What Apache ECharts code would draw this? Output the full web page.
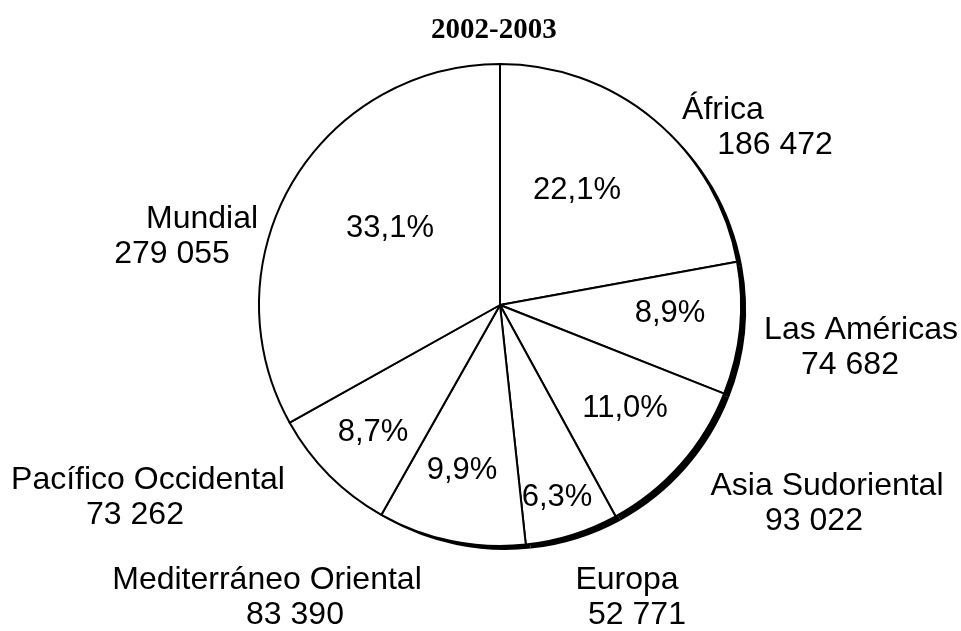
<!DOCTYPE html>
<html>
<head>
<meta charset="utf-8">
<script src="https://cdn.jsdelivr.net/npm/echarts@6/dist/echarts.min.js"></script>
<style>
  html, body { margin: 0; padding: 0; background: #fff; }
  #chart { width: 961px; height: 631px; }
</style>
</head>
<body>
<div id="chart"></div>
<script>
// regions, clockwise from 12 o'clock
var regiones = ['África', 'Las Américas', 'Asia Sudoriental', 'Europa',
	'Mediterráneo Oriental', 'Pacífico Occidental', 'Mundial'];
var casos = [186472, 74682, 93022, 52771, 83390, 73262, 279055];
var titulo = '2002-2003';

// where the labels sit in the original (centre of first line x, block centre y)
var nombrePos = [[723, 128], [861, 348], [827, 504], [627, 598], [267, 598], [148, 498], [202, 237]];
// second line shift relative to first line
var segundaLinea = [52, -11, -13, 10, 28, -13, -30];
var pctPos = [[577, 190], [670, 313], [625, 408], [557, 497], [462, 470], [373, 432], [390, 228]];

var total = casos.reduce(function (a, b) { return a + b; }, 0);

function miles(n) {
	return String(n).replace(/\B(?=(\d{3})+(?!\d))/g, ' ');
}

var datos = regiones.map(function (r, i) {
	var s = segundaLinea[i];
	return {
		name: r,
		value: casos[i],
		label: {
			rich: {
				v: { fontSize: 32, fontFamily: 'Liberation Sans', color: '#000', lineHeight: 35,
					padding: s > 0 ? [0, 0, 0, 2 * s] : [0, -2 * s, 0, 0] }
			}
		}
	};
});

var chart = echarts.init(document.getElementById('chart'));

chart.setOption({
	backgroundColor: '#fff',
	animation: false,
	title: {
		text: titulo,
		left: 426,
		top: 11,
		textStyle: {
			fontFamily: 'Liberation Serif',
			fontWeight: 'bold',
			fontSize: 29,
			color: '#000'
		}
	},
	series: [
		{
			// drop shadow on the lower right
			type: 'pie',
			silent: true,
			center: [505, 309],
			radius: 241,
			startAngle: 90,
			data: casos.map(function (v) { return { value: v }; }),
			itemStyle: { color: '#000', borderWidth: 0 },
			label: { show: false },
			labelLine: { show: false },
			emphasis: { disabled: true }
		},
		{
			type: 'pie',
			center: [500, 305],
			radius: 241,
			startAngle: 90,
			data: datos,
			itemStyle: { color: '#fff', borderColor: '#000', borderWidth: 2 },
			label: {
				show: true,
				position: 'outside',
				overflow: 'none',
				edgeDistance: 0,
				bleedMargin: 0,
				formatter: function (p) {
					return '{n|' + p.name + '}\n{v|' + miles(p.value) + '}';
				},
				rich: {
					n: { fontSize: 32, fontFamily: 'Liberation Sans', color: '#000', lineHeight: 35 }
				}
			},
			labelLine: { show: false },
			labelLayout: function (p) {
				var pos = nombrePos[p.dataIndex];
				return { x: pos[0], y: pos[1], align: 'center', verticalAlign: 'middle' };
			},
			emphasis: { disabled: true }
		},
		{
			// percentage labels
			type: 'pie',
			silent: true,
			center: [500, 305],
			radius: 241,
			startAngle: 90,
			data: casos.map(function (v) { return { value: v }; }),
			itemStyle: { color: 'rgba(0,0,0,0)', borderWidth: 0 },
			label: {
				show: true,
				position: 'inside',
				fontSize: 31,
				fontFamily: 'Liberation Sans',
				color: '#000',
				formatter: function (p) {
					return (p.value / total * 100).toFixed(1).replace('.', ',') + '%';
				}
			},
			labelLine: { show: false },
			labelLayout: function (p) {
				var pos = pctPos[p.dataIndex];
				return { x: pos[0], y: pos[1], align: 'center', verticalAlign: 'middle' };
			},
			emphasis: { disabled: true }
		}
	]
});
</script>
</body>
</html>
